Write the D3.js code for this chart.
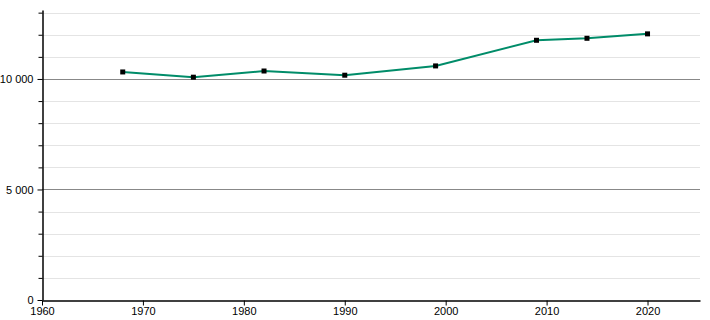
<!DOCTYPE html>
<html>
<head>
<meta charset="utf-8">
<script src="https://cdn.jsdelivr.net/npm/d3@7"></script>
<style>
  body { margin: 0; background: #fff; }
  svg { display: block; font-family: "Liberation Sans", Arial, sans-serif; }
</style>
</head>
<body>
<div id="chart"></div>
<script>
// population by census year
const years = [1968, 1975, 1982, 1990, 1999, 2009, 2014, 2020];
const population = [10317, 10080, 10360, 10170, 10590, 11750, 11840, 12040];
const xTicks = [1960, 1970, 1980, 1990, 2000, 2010, 2020];
const yMajor = [0, 5000, 10000];
const yMinor = d3.range(1000, 14000, 1000).filter(v => v % 5000 !== 0);

const width = 710, height = 320;
const svg = d3.select("#chart").append("svg")
    .attr("width", width)
    .attr("height", height);

const x = d3.scaleLinear().domain([1960, 2025.2]).range([42, 700]);
const y = d3.scaleLinear().domain([0, 13120]).range([300, 10]);

const fmt = v => v === 0 ? "0" : d3.format(",")(v).replace(/,/g, " ");

// minor grid
svg.append("g")
    .selectAll("line")
    .data(yMinor)
    .join("line")
    .attr("x1", 42).attr("x2", 700)
    .attr("y1", d => Math.round(y(d)) + 0.5)
    .attr("y2", d => Math.round(y(d)) + 0.5)
    .attr("stroke", "#e4e4e4");

// major grid
svg.append("g")
    .selectAll("line")
    .data(yMajor.filter(d => d > 0))
    .join("line")
    .attr("x1", 42).attr("x2", 700)
    .attr("y1", d => Math.round(y(d)) + 0.5)
    .attr("y2", d => Math.round(y(d)) + 0.5)
    .attr("stroke", "#888");

// y axis with minor ticks
const yAxisMinor = d3.axisLeft(y).tickValues(yMinor).tickSize(4).tickFormat("");
svg.append("g")
    .attr("transform", "translate(42.5,0)")
    .call(yAxisMinor)
    .call(g => g.select(".domain").remove())
    .call(g => g.selectAll("line").attr("stroke", "#000"));

const yAxis = d3.axisLeft(y).tickValues(yMajor).tickSize(5).tickSizeOuter(0).tickFormat(fmt);
svg.append("g")
    .attr("transform", "translate(42.5,0)")
    .call(yAxis)
    .call(g => g.select(".domain").attr("stroke", "#000").attr("stroke-width", 1.5))
    .call(g => g.selectAll("text").attr("font-size", 11).attr("fill", "#000").attr("x", -9));

// x axis
const xAxis = d3.axisBottom(x).tickValues(xTicks).tickSize(5).tickSizeOuter(0).tickFormat(d3.format("d"));
svg.append("g")
    .attr("transform", "translate(0,300.5)")
    .call(xAxis)
    .call(g => g.select(".domain").attr("stroke", "#000").attr("stroke-width", 1.5))
    .call(g => g.selectAll("text").attr("font-size", 11).attr("fill", "#000").attr("dy", "0.55em"));

// line
const data = years.map((yr, i) => ({ year: yr, value: population[i] }));
const line = d3.line().x(d => x(d.year)).y(d => y(d.value));
svg.append("path")
    .datum(data)
    .attr("fill", "none")
    .attr("stroke", "#008c69")
    .attr("stroke-width", 2)
    .attr("d", line);

// markers
svg.append("g")
    .selectAll("rect")
    .data(data)
    .join("rect")
    .attr("x", d => x(d.year) - 2.5)
    .attr("y", d => y(d.value) - 2.5)
    .attr("width", 5)
    .attr("height", 5)
    .attr("fill", "#000");
</script>
</body>
</html>
